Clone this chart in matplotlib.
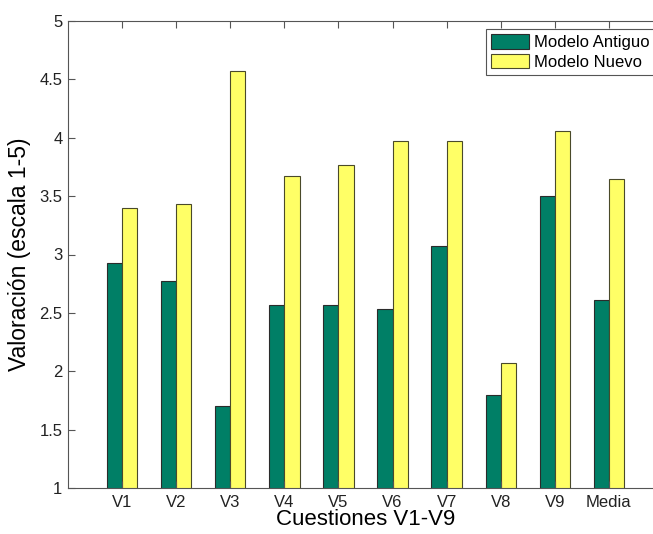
import numpy as np
import matplotlib
matplotlib.use("Agg")
import matplotlib.pyplot as plt

plt.rcParams['font.family'] = ['Liberation Sans', 'DejaVu Sans']

cuestiones = ['V1', 'V2', 'V3', 'V4', 'V5', 'V6', 'V7', 'V8', 'V9', 'Media']
antiguo = [2.93, 2.77, 1.70, 2.57, 2.57, 2.53, 3.07, 1.80, 3.50, 2.61]
nuevo = [3.40, 3.43, 4.57, 3.67, 3.77, 3.97, 3.97, 2.07, 4.06, 3.65]

fig = plt.figure(figsize=(6.53, 5.34), dpi=100)
# axes runs past the right edge of the picture, like the original crop
ax = fig.add_axes([68/653, 46/534, 595/653, 467/534])

x = np.arange(1, len(cuestiones) + 1)
w = 0.28
ax.bar(x - w/2, antiguo, w, color='#007f66', edgecolor='#2b2b2b',
       linewidth=0.8, label='Modelo Antiguo')
ax.bar(x + w/2, nuevo, w, color='#ffff66', edgecolor='#4a4a2a',
       linewidth=0.8, label='Modelo Nuevo')

ax.set_xlim(0, 11)
ax.set_ylim(1, 5)
ax.set_xticks(x)
ax.set_xticklabels(cuestiones)
ax.set_yticks([1, 1.5, 2, 2.5, 3, 3.5, 4, 4.5, 5])
ax.set_yticklabels(['1', '1.5', '2', '2.5', '3', '3.5', '4', '4.5', '5'])
ax.tick_params(direction='in', length=5, width=0.8, color='#555555',
               labelsize=12, labelcolor='#222222', top=True, right=False)
ax.tick_params(axis='y', pad=4)
ax.tick_params(axis='x', pad=5)
for s in ax.spines.values():
    s.set_color('#555555')
    s.set_linewidth(0.8)

ax.set_xlabel('Cuestiones V1-V9', fontsize=16, labelpad=-1)
ax.set_ylabel('Valoración (escala 1-5)', fontsize=16.5, labelpad=6)

leg = ax.legend(loc='upper left', bbox_to_anchor=(486/653, 1 - 29/534),
                bbox_transform=fig.transFigure, fontsize=12, fancybox=False,
                framealpha=1, edgecolor='#555555', handlelength=2.3,
                handleheight=1.0, borderpad=0.3, labelspacing=0.2,
                handletextpad=0.3, borderaxespad=0)
leg.get_frame().set_linewidth(0.8)

fig.savefig('out.png', dpi=100)
